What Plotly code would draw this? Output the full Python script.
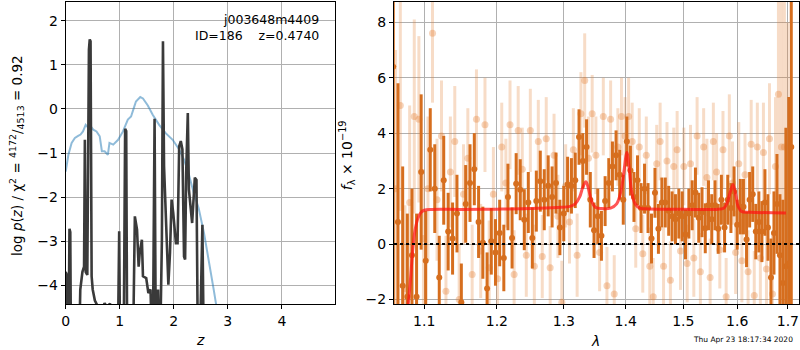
import plotly.graph_objects as go

# ---------------- left panel: redshift PDF ----------------
pz_z = [0.00, 0.05, 0.11, 0.17, 0.23, 0.275, 0.32, 0.37, 0.42, 0.46, 0.51, 0.57, 0.63, 0.67,
        0.72, 0.78, 0.81, 0.88, 0.97, 1.06, 1.15, 1.21, 1.26, 1.30, 1.38, 1.43, 1.52, 1.61,
        1.73, 1.85, 1.98, 2.10, 2.19, 2.28, 2.37, 2.46, 2.56, 2.65, 2.74, 2.80, 2.90]
pz_logp = [-1.42, -1.04, -0.77, -0.66, -0.61, -0.58, -0.51, -0.36, -0.43, -0.39, -0.47, -0.51,
           -0.62, -0.96, -0.96, -1.04, -0.77, -0.81, -0.70, -0.51, -0.24, -0.17, 0.02, 0.17,
           0.27, 0.24, 0.08, -0.13, -0.36, -0.55, -0.70, -0.92, -1.15, -1.49, -1.91, -2.25,
           -2.82, -3.42, -4.11, -4.56, -5.5]

chi_z = [0.00, 0.015, 0.03, 0.055, 0.07, 0.085, 0.10, 0.24, 0.27, 0.31, 0.34, 0.355, 0.37,
         0.40, 0.43, 0.445, 0.46, 0.48, 0.50, 0.54, 0.60, 0.66, 0.72, 0.76, 0.82, 0.86, 0.96,
         0.99, 1.01, 1.07, 1.10, 1.12, 1.14, 1.24, 1.28, 1.32, 1.35, 1.37, 1.41, 1.43, 1.49,
         1.53, 1.57, 1.61, 1.645, 1.67, 1.71, 1.74, 1.78, 1.80, 1.82, 1.85, 1.90, 1.93, 1.96,
         1.99, 2.04, 2.07, 2.10, 2.13, 2.16, 2.19, 2.21, 2.23, 2.26, 2.28, 2.34, 2.39, 2.42,
         2.45, 2.50, 2.53, 2.56, 4.99]
chi_logp = [-3.7, -3.75, -5.5, -5.0, -2.72, -2.8, -6.0, -6.0, -4.1, -3.7, -3.58, -0.7, -3.7,
            -3.77, 1.35, 1.58, 1.54, -3.8, -4.1, -4.35, -4.5, -4.6, -4.41, -4.5, -4.42, -4.6,
            -6.0, -2.78, -6.0, -6.0, -0.45, -0.5, -6.0, -6.0, -2.44, -2.74, -3.58, -3.27,
            -2.97, -3.80, -3.84, -4.18, -4.1, -6.0, -0.22, -6.0, -4.1, -6.0, -3.0, 1.54, -1.3,
            -2.36, -3.99, -3.27, -2.06, -2.36, -3.05, -3.05, -0.85, -0.73, -0.92, -3.35, -3.42,
            -1.45, -0.09, -1.83, -2.59, -1.56, -1.61, -6.0, -4.4, -2.63, -6.0, -8.0]

left_xticks = [0, 1, 2, 3, 4]
left_yticks = [-4, -3, -2, -1, 0, 1, 2]
left_yticklabels = ["\u22124", "\u22123", "\u22122", "\u22121", "0", "1", "2"]

# ---------------- right panel: spectrum ----------------
dark_wave = [1.060, 1.066, 1.072, 1.078, 1.084, 1.090, 1.096, 1.102, 1.108, 1.114, 1.120,
             1.126, 1.132, 1.138, 1.144, 1.150, 1.156, 1.162, 1.168, 1.174, 1.180, 1.186,
             1.192, 1.198, 1.204, 1.210, 1.216, 1.222, 1.228, 1.234, 1.240, 1.246, 1.252,
             1.258, 1.264, 1.270, 1.276, 1.282, 1.288, 1.294, 1.300, 1.306, 1.312, 1.318,
             1.324, 1.330, 1.336, 1.342, 1.348, 1.354, 1.360, 1.366, 1.372, 1.378, 1.384,
             1.390, 1.396, 1.402, 1.408, 1.414, 1.420, 1.426, 1.432, 1.438, 1.444, 1.450,
             1.456, 1.462, 1.468, 1.474, 1.480, 1.486, 1.492, 1.498, 1.504, 1.510, 1.516,
             1.522, 1.528, 1.534, 1.540, 1.546, 1.552, 1.558, 1.564, 1.570, 1.576, 1.582,
             1.588, 1.594, 1.600, 1.606, 1.612, 1.618, 1.624, 1.630, 1.636, 1.642, 1.648,
             1.654, 1.660, 1.666, 1.672, 1.678, 1.684, 1.690, 1.696, 1.702, 1.707]
dark_flux = [6.4, 0.8, -1.5, -1.9, -0.4, -1.9, 2.6, -0.6, 3.4, 2.0, -1.2, 2.3, 0.45, 0.2, 1.1,
             -2.1, 1.45, 2.2, 2.7, 0.8, 0.05, -1.6, 0.1, -0.3, 0.4, -0.5, 1.7, 0.22, 2.18, 1.96,
             0.88, 1.5, 0.22, 1.55, 2.27, 1.6, 2.1, 1.7, 2.2, 0.6, 1.1, 2.15, 2.1, 2.3, 3.86,
             3.0, 3.5, 1.6, 0.5, 1.0, 0.3, 1.55, 2.2, 2.8, 3.2, 2.5, 1.6, 3.7, 2.65, 1.7, 2.3,
             1.3, 2.0, 1.3, 0.2, 1.85, 0.55, 1.5, 1.5, 1.2, 1.0, 0.9, 1.1, 1.0, 0.35, 1.1, 1.4,
             1.86, 0.95, 1.15, 0.57, 1.4, 0.9, 1.4, 0.55, 1.6, 0.6, 1.6, 1.3, 1.9, 0.7, 1.35,
             1.35, 0.17, 1.6, 1.8, 0.45, 0.8, 0.45, 1.5, 0.6, -1.2, 0.4, 1.45, -0.4, -1.4,
             -0.8, -0.7, 3.5]
dark_err = [12.0, 5.0, 4.3, 3.0, 2.4, 3.0, 2.8, 1.8, 1.5, 1.6, 1.5, 1.6, 1.4, 1.3, 1.4, 1.4,
            1.4, 1.4, 1.3, 1.3, 1.3, 1.3, 1.2, 1.2, 1.2, 1.2, 1.2, 1.1, 1.1, 1.1, 1.1, 1.1,
            1.1, 1.1, 1.1, 1.1, 1.1, 1.1, 1.1, 1.0, 1.0, 1.0, 1.0, 1.0, 1.0, 1.0, 1.0, 1.0,
            1.0, 1.0, 0.9, 0.9, 0.9, 0.9, 0.9, 0.9, 0.9, 0.9, 0.9, 0.9, 0.9, 0.9, 0.9, 0.9,
            0.9, 0.9, 0.9, 0.9, 0.9, 0.9, 0.9, 0.9, 0.9, 0.9, 0.9, 0.9, 0.9, 0.9, 0.9, 0.9,
            0.9, 0.9, 0.9, 0.9, 0.9, 0.9, 0.9, 0.9, 0.9, 0.9, 0.9, 1.0, 1.0, 1.0, 1.0, 1.0,
            1.0, 1.1, 1.1, 1.2, 1.2, 1.4, 1.5, 1.8, 2.2, 3.0, 5.0, 6.0, 9.0]

light_wave = [1.063, 1.069, 1.075, 1.081, 1.087, 1.093, 1.099, 1.105, 1.111, 1.117, 1.123,
              1.129, 1.135, 1.141, 1.147, 1.153, 1.159, 1.165, 1.171, 1.177, 1.183, 1.189,
              1.195, 1.201, 1.207, 1.213, 1.219, 1.225, 1.231, 1.237, 1.243, 1.249, 1.255,
              1.261, 1.267, 1.273, 1.279, 1.285, 1.291, 1.297, 1.303, 1.309, 1.315, 1.321,
              1.327, 1.333, 1.339, 1.345, 1.351, 1.357, 1.363, 1.369, 1.375, 1.381, 1.387,
              1.393, 1.399, 1.405, 1.411, 1.417, 1.423, 1.429, 1.435, 1.441, 1.447, 1.453,
              1.459, 1.465, 1.471, 1.477, 1.483, 1.489, 1.495, 1.501, 1.507, 1.513, 1.519,
              1.525, 1.531, 1.537, 1.543, 1.549, 1.555, 1.561, 1.567, 1.573, 1.579, 1.585,
              1.591, 1.597, 1.603, 1.609, 1.615, 1.621, 1.627, 1.633, 1.639, 1.645, 1.651,
              1.657, 1.663, 1.669, 1.675, 1.681, 1.687, 1.693, 1.699]
light_flux = [2.0, 5.0, -1.6, 1.5, 4.6, 4.5, 0.2, 2.0, 7.6, 1.6, 3.9, -1.7, 2.6, 3.7, -2.0,
              1.8, 3.1, -1.1, 4.5, -0.25, 4.3, -0.85, 1.8, -1.25, 3.5, 2.2, 4.3, -1.1, 4.1,
              2.7, -0.4, 4.1, -0.8, 3.7, -0.45, 3.8, -0.85, 3.2, 1.0, -2.1, 2.1, 0.8, 3.4,
              -0.4, 4.7, 5.9, 3.1, 4.7, 3.2, -0.3, 4.6, -1.5, 4.5, -1.8, 3.5, 4.6, 3.9, 4.6,
              3.7, 0.55, 3.5, -0.35, 3.2, -0.8, -1.9, 2.9, 3.7, -0.8, 3.0, -1.3, 2.8, 3.4,
              -0.25, 2.8, -0.7, 2.9, -0.5, 3.9, -1.0, 3.5, 2.4, -1.2, 3.7, 2.6, -0.2, 3.4,
              -1.9, 3.9, 2.2, -0.3, 2.9, -0.6, 2.5, -1.0, 3.6, -1.85, 3.5, -0.5, 3.3, -0.9,
              3.8, -1.8, 2.8, 5.4, 3.5, 3.5, 1.0]
light_err = [5.0, 3.8, 3.0, 3.5, 3.5, 3.0, 2.5, 2.6, 2.5, 2.2, 2.0, 2.0, 2.0, 2.0, 2.0, 1.8,
             1.8, 1.8, 1.8, 1.7, 1.7, 1.7, 1.7, 1.6, 1.6, 1.6, 1.6, 1.6, 1.6, 1.5, 1.5, 1.5,
             1.5, 1.5, 1.5, 1.5, 1.5, 1.5, 1.5, 1.5, 1.5, 1.5, 1.5, 1.5, 1.5, 1.7, 1.5, 1.4,
             1.4, 1.4, 1.4, 1.4, 1.4, 1.4, 1.4, 1.4, 1.4, 1.4, 1.4, 1.4, 1.4, 1.4, 1.4, 1.4,
             1.4, 1.4, 1.4, 1.4, 1.4, 1.4, 1.4, 1.4, 1.4, 1.4, 1.4, 1.4, 1.4, 1.4, 1.4, 1.4,
             1.4, 1.4, 1.4, 1.4, 1.4, 1.4, 1.4, 1.5, 1.5, 1.5, 1.5, 1.5, 1.5, 1.5, 1.6, 1.6,
             1.6, 1.7, 1.8, 1.8, 2.0, 2.2, 2.5, 4.0, 5.5, 6.0, 7.0]

model_wave = [1.078, 1.082, 1.085, 1.088, 1.092, 1.096, 1.100, 1.110, 1.150, 1.200, 1.250,
              1.290, 1.310, 1.318, 1.325, 1.330, 1.335, 1.339, 1.344, 1.350, 1.360, 1.375,
              1.385, 1.392, 1.397, 1.402, 1.406, 1.410, 1.416, 1.424, 1.440, 1.500, 1.560,
              1.575, 1.581, 1.587, 1.592, 1.597, 1.602, 1.608, 1.625, 1.696]
model_flux = [-2.5, -1.3, -0.2, 0.5, 0.95, 1.15, 1.22, 1.25, 1.25, 1.26, 1.28, 1.32, 1.36,
              1.45, 1.7, 2.05, 2.25, 2.0, 1.55, 1.33, 1.28, 1.3, 1.45, 1.9, 2.6, 3.3, 2.7,
              1.9, 1.45, 1.3, 1.27, 1.26, 1.25, 1.3, 1.5, 1.9, 2.15, 1.8, 1.35, 1.18, 1.15,
              1.12]

right_xticks = [1.1, 1.2, 1.3, 1.4, 1.5, 1.6, 1.7]
right_xticklabels = ["1.1", "1.2", "1.3", "1.4", "1.5", "1.6", "1.7"]
right_yticks = [-2, 0, 2, 4, 6, 8]
right_yticklabels = ["\u22122", "0", "2", "4", "6", "8"]

DARK = "#d66e1e"
LIGHT = "rgba(228,128,55,0.28)"
LIGHT_MK = "rgba(228,128,55,0.35)"

fig = go.Figure()

fig.add_trace(go.Scatter(x=pz_z, y=pz_logp, mode="lines",
                         line=dict(color="rgba(31,119,180,0.5)", width=2),
                         xaxis="x", yaxis="y", showlegend=False))
fig.add_trace(go.Scatter(x=chi_z, y=chi_logp, mode="lines",
                         line=dict(color="#3a3a3a", width=2.6),
                         xaxis="x", yaxis="y", showlegend=False))

fig.add_trace(go.Scatter(x=light_wave, y=light_flux, mode="markers",
                         marker=dict(color=LIGHT_MK, size=7, line=dict(width=0)),
                         error_y=dict(type="data", array=light_err, color=LIGHT,
                                      thickness=3, width=0),
                         xaxis="x2", yaxis="y2", showlegend=False))
fig.add_trace(go.Scatter(x=dark_wave, y=dark_flux, mode="markers",
                         marker=dict(color=DARK, size=6, line=dict(width=0)),
                         error_y=dict(type="data", array=dark_err, color=DARK,
                                      thickness=3, width=0),
                         xaxis="x2", yaxis="y2", showlegend=False))
fig.add_trace(go.Scatter(x=model_wave, y=model_flux, mode="lines",
                         line=dict(color="rgba(255,20,20,0.72)", width=3, shape="spline"),
                         xaxis="x2", yaxis="y2", showlegend=False))

axis_common = dict(showline=True, linecolor="black", linewidth=1, mirror=True,
                   ticks="outside", ticklen=4, tickcolor="black",
                   showgrid=True, gridcolor="#b0b0b0", gridwidth=1, zeroline=False,
                   tickfont=dict(family="DejaVu Sans", size=14, color="black"))

fig.update_layout(
    width=800, height=350,
    margin=dict(l=0, r=0, t=2, b=46),
    paper_bgcolor="white", plot_bgcolor="white",
    font=dict(family="DejaVu Sans", color="black"),
    xaxis=dict(domain=[62 / 800, 333 / 800], range=[0, 4.99], tickmode="array",
               tickvals=left_xticks, anchor="y", **axis_common),
    yaxis=dict(domain=[0, 1], range=[-4.43, 2.43], tickmode="array", tickvals=left_yticks,
               ticktext=left_yticklabels, anchor="x", **axis_common),
    xaxis2=dict(domain=[392 / 800, 799 / 800], type="log", range=[0.02571, 0.23625],
                tickmode="array", tickvals=right_xticks, ticktext=right_xticklabels,
                anchor="y2", **axis_common),
    yaxis2=dict(domain=[0, 1], range=[-2.16, 8.73], tickmode="array", tickvals=right_yticks,
                ticktext=right_yticklabels, anchor="x2", **axis_common),
)

fig.add_shape(type="line", xref="x2 domain", x0=0, x1=1, yref="y2", y0=0, y1=0,
              line=dict(color="black", width=2, dash="dot"), layer="above")


def px(x):
    return x / 800


def py(y):
    return (304 - y) / 302


anns = [
    dict(text="j003648m4409", x=px(319), y=py(20), xanchor="right", yanchor="middle",
         size=12.5),
    dict(text="ID=186\u00a0\u00a0\u00a0\u00a0z=0.4740", x=px(319), y=py(35), xanchor="right",
         yanchor="middle", size=12.5),
    dict(text="<i>z</i>", x=px(197), y=py(340), xanchor="center", yanchor="middle", size=14),
    dict(text="<i>λ</i>", x=px(594), y=py(341), xanchor="center", yanchor="middle", size=14),
    dict(text="log <i>p</i>(<i>z</i>) / χ<sup>2</sup> = <sup>4172</sup>/<sub>4513</sub> = 0.92",
         x=px(13), y=py(155), xanchor="center", yanchor="middle", textangle=-90, size=13.5),
    dict(text="<i>f</i><sub>λ</sub> × 10<sup>−19</sup>", x=px(345), y=py(155),
         xanchor="center", yanchor="middle", textangle=-90, size=14),
    dict(text="Thu Apr 23 18:17:34 2020", x=px(743), y=py(339), xanchor="center",
         yanchor="middle", size=7.5),
]
for a in anns:
    size = a.pop("size")
    fig.add_annotation(xref="paper", yref="paper", showarrow=False,
                       font=dict(family="DejaVu Sans", color="black", size=size), **a)

fig.write_html("out.html")
